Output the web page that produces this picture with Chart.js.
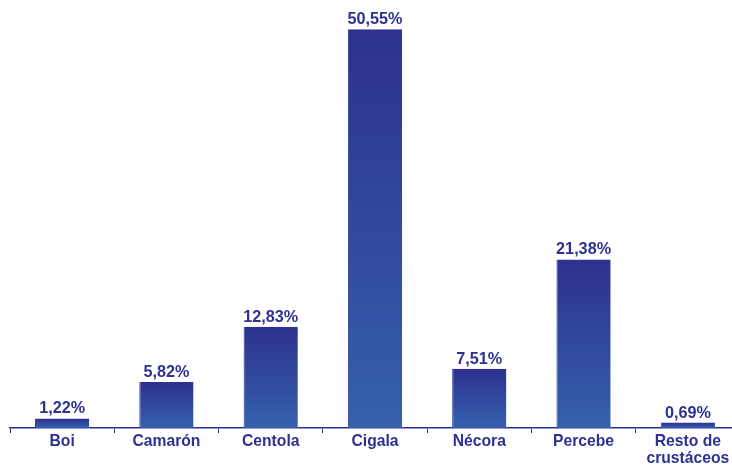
<!DOCTYPE html>
<html>
<head>
<meta charset="utf-8">
<script src="https://cdn.jsdelivr.net/npm/chart.js@4"></script>
<style>
html,body{margin:0;padding:0;background:#fff;overflow:hidden}
#wrap{position:relative;width:745px;height:467px}
</style>
</head>
<body>
<div id="wrap"><canvas id="chart" width="745" height="467"></canvas></div>
<script>
const categories=["Boi","Camarón","Centola","Cigala","Nécora","Percebe",["Resto de","crustáceos"]];
const values=[1.22,5.82,12.83,50.55,7.51,21.38,0.69];
const valueLabels=["1,22%","5,82%","12,83%","50,55%","7,51%","21,38%","0,69%"];

const navy="#2e3192";
const font={family:"'Liberation Sans', Arial, sans-serif",size:15.7,weight:"bold",lineHeight:1.1};

// vertical gradient per bar, dark top -> lighter bottom
function barFill(ctx){
  const y=ctx.chart.scales&&ctx.chart.scales.y;
  if(!y||ctx.raw===undefined)return navy;
  const top=y.getPixelForValue(ctx.raw),base=y.getPixelForValue(0);
  if(!isFinite(top)||!isFinite(base)||top===base)return navy;
  const g=ctx.chart.ctx.createLinearGradient(0,top,0,base);
  g.addColorStop(0,"#2d3190");
  g.addColorStop(1,"#3561ad");
  return g;
}

const valuePlugin={
  id:"values",
  afterDatasetsDraw(chart){
    const c=chart.ctx;
    c.save();
    c.font=`bold 16.2px ${font.family}`;
    c.fillStyle=navy;
    c.textAlign="center";
    c.textBaseline="alphabetic";
    chart.getDatasetMeta(0).data.forEach((b,i)=>{
      c.fillText(valueLabels[i],b.x,b.y-5);
    });
    c.restore();
  }
};

new Chart(document.getElementById("chart"),{
  type:"bar",
  data:{
    labels:categories,
    datasets:[{
      data:values,
      backgroundColor:barFill,
      borderColor:"#2b3a9a",
      borderWidth:{left:1,right:0,top:0,bottom:0},
      barPercentage:0.52,
      categoryPercentage:1
    }]
  },
  options:{
    responsive:false,
    animation:false,
    layout:{padding:{top:10,left:10,right:5,bottom:0}},
    plugins:{legend:{display:false},tooltip:{enabled:false}},
    scales:{
      x:{
        offset:true,
        grid:{offset:true,drawOnChartArea:false,color:navy,tickLength:5,lineWidth:1},
        border:{color:navy,width:1.5},
        ticks:{color:navy,font:font,padding:0,maxRotation:0,autoSkip:false},
        afterFit(s){s.height=39}
      },
      y:{
        display:false,
        min:0,max:53
      }
    }
  },
  plugins:[valuePlugin]
});
</script>
</body>
</html>
